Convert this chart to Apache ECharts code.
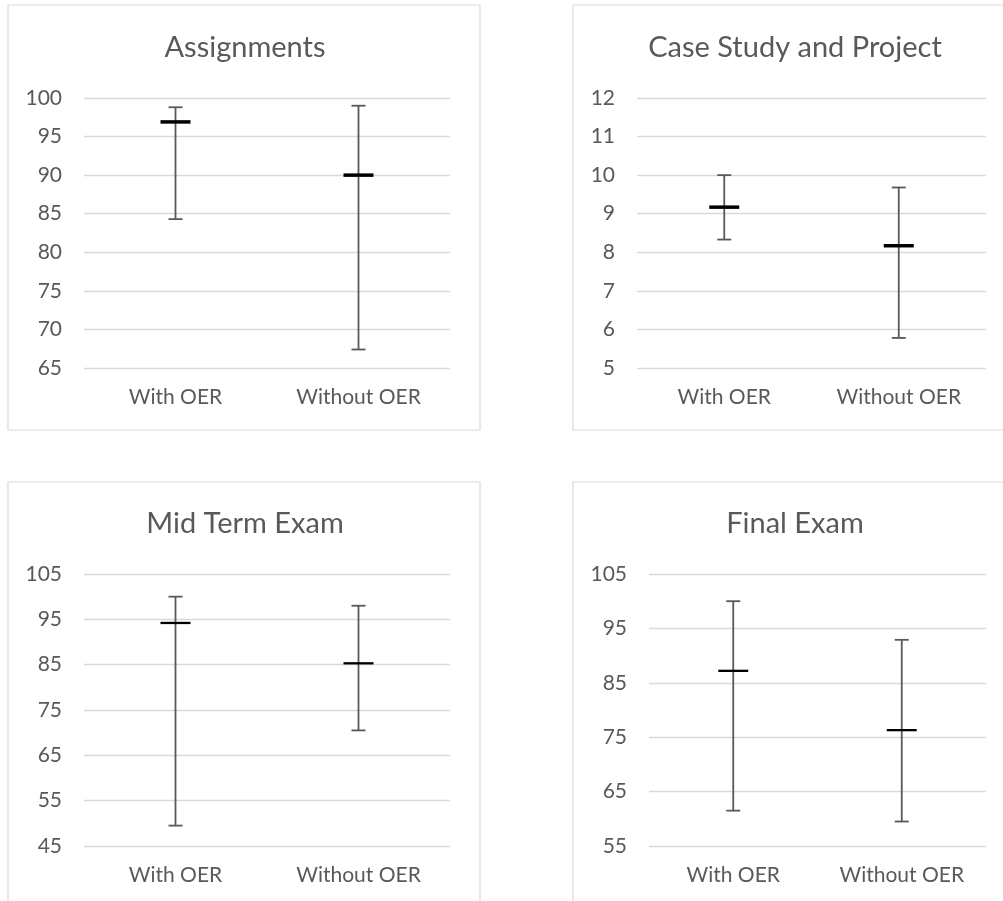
<!DOCTYPE html>
<html>
<head>
<meta charset="utf-8">
<script src="https://cdn.jsdelivr.net/npm/echarts@6/dist/echarts.min.js"></script>
<style>
html,body{margin:0;padding:0;background:#fff;}
#chart{width:1003px;height:901px;}
</style>
</head>
<body>
<div id="chart"></div>
<script>
var categories = ['With OER', 'Without OER'];
var titles = ['Assignments', 'Case Study and Project', 'Mid Term Exam', 'Final Exam'];

var assignHigh = [98.8, 99.0];
var assignMean = [96.9, 90.0];
var assignLow  = [84.3, 67.4];

var caseHigh = [10.0, 9.68];
var caseMean = [9.17, 8.17];
var caseLow  = [8.33, 5.78];

var midHigh = [100, 98];
var midMean = [94.2, 85.3];
var midLow  = [49.5, 70.5];

var finalHigh = [100, 92.9];
var finalMean = [87.2, 76.3];
var finalLow  = [61.5, 59.5];

var yMin = [65, 5, 45, 55];
var yMax = [100, 12, 105, 105];
var yInterval = [5, 1, 10, 10];

var FONT = 'Lato';
var TXT = '#595959';

var panels = [
  {high: assignHigh, mean: assignMean, low: assignLow, meanW: 3.5},
  {high: caseHigh, mean: caseMean, low: caseLow, meanW: 3.5},
  {high: midHigh, mean: midMean, low: midLow, meanW: 2.3},
  {high: finalHigh, mean: finalMean, low: finalLow, meanW: 2.3}
];

var grids = [
  {left: 84, top: 98, width: 366, height: 270},
  {left: 637, top: 98, width: 349, height: 270},
  {left: 84, top: 574, width: 366, height: 272},
  {left: 649, top: 574, width: 337, height: 272}
];
var titlePos = [
  {x: 240, y: 28},
  {x: 790, y: 28},
  {x: 240, y: 504},
  {x: 790, y: 504}
];
var borders = [
  {x: 8, y: 5, w: 472, h: 425},
  {x: 573, y: 5, w: 500, h: 425},
  {x: 8, y: 482, w: 472, h: 500},
  {x: 573, y: 482, w: 500, h: 500}
];

function makeRender(meanW) {
  return function (params, api) {
    var x = api.value(0);
    var pLow = api.coord([x, api.value(1)]);
    var pMean = api.coord([x, api.value(2)]);
    var pHigh = api.coord([x, api.value(3)]);
    var capHalf = 7, meanHalf = 15;
    var ws = {stroke: '#595959', lineWidth: 1.8};
    return {
      type: 'group',
      children: [
        {type: 'line', shape: {x1: pLow[0], y1: pLow[1], x2: pHigh[0], y2: pHigh[1]}, style: ws},
        {type: 'line', shape: {x1: pLow[0] - capHalf, y1: pLow[1], x2: pLow[0] + capHalf, y2: pLow[1]}, style: ws},
        {type: 'line', shape: {x1: pHigh[0] - capHalf, y1: pHigh[1], x2: pHigh[0] + capHalf, y2: pHigh[1]}, style: ws},
        {type: 'line', shape: {x1: pMean[0] - meanHalf, y1: pMean[1], x2: pMean[0] + meanHalf, y2: pMean[1]}, style: {stroke: '#000', lineWidth: meanW}}
      ]
    };
  };
}

var option = {
  backgroundColor: '#fff',
  animation: false,
  title: titles.map(function (t, i) {
    return {
      text: t, left: titlePos[i].x, top: titlePos[i].y, textAlign: 'center',
      textStyle: {fontFamily: FONT, fontSize: 29, fontWeight: 'normal', color: TXT}
    };
  }),
  graphic: borders.map(function (b) {
    return {type: 'rect', shape: {x: b.x, y: b.y, width: b.w, height: b.h},
      style: {fill: 'none', stroke: '#d9d9d9', lineWidth: 1.2}, silent: true, z: -1};
  }),
  grid: grids,
  xAxis: grids.map(function (g, i) {
    return {
      type: 'category', gridIndex: i, data: categories,
      axisLine: {show: false}, axisTick: {show: false},
      axisLabel: {fontFamily: FONT, fontSize: 21, color: TXT, margin: 19}
    };
  }),
  yAxis: grids.map(function (g, i) {
    return {
      type: 'value', gridIndex: i, min: yMin[i], max: yMax[i], interval: yInterval[i],
      axisLine: {show: false}, axisTick: {show: false},
      axisLabel: {fontFamily: FONT, fontSize: 21, color: TXT, margin: 22},
      splitLine: {lineStyle: {color: '#d9d9d9', width: 1.3}}
    };
  }),
  series: panels.map(function (p, i) {
    return {
      type: 'custom', xAxisIndex: i, yAxisIndex: i,
      renderItem: makeRender(p.meanW),
      encode: {x: 0, y: [1, 2, 3]},
      data: categories.map(function (c, k) { return [k, p.low[k], p.mean[k], p.high[k]]; })
    };
  })
};

var chart = echarts.init(document.getElementById('chart'), null, {renderer: 'canvas'});
chart.setOption(option);
</script>
</body>
</html>
